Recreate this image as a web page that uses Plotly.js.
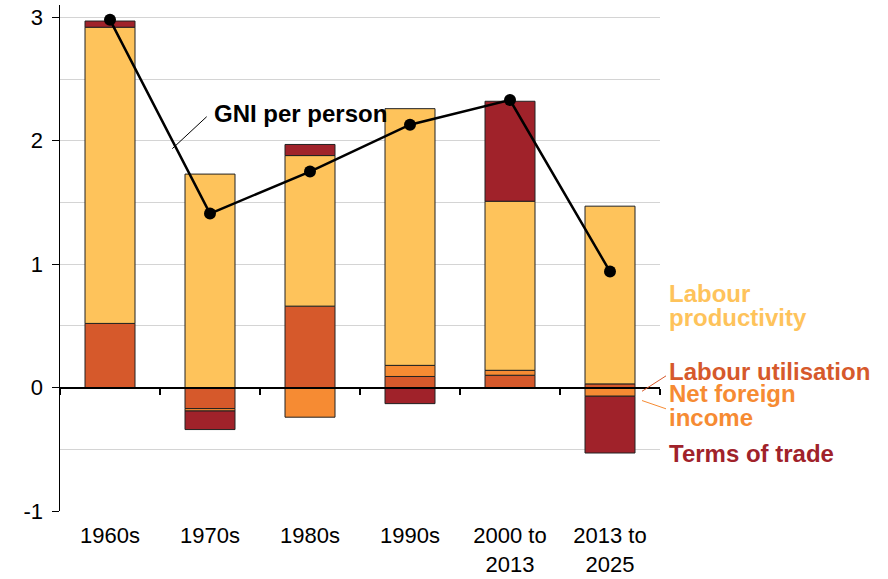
<!DOCTYPE html>
<html>
<head>
<meta charset="utf-8">
<script src="https://cdn.plot.ly/plotly-3.0.1.min.js"></script>
<style>html,body{margin:0;padding:0;background:#fff}#chart{width:888px;height:579px}</style>
</head>
<body>
<div id="chart"></div>
<script>
// Categories (x tick labels)
const categories = ["1960s", "1970s", "1980s", "1990s", "2000 to<br>2013", "2013 to<br>2025"];
// Component contributions (percentage points)
const labourUtilisation = [0.52, -0.17, 0.66, 0.09, 0.10, 0.03];
const netForeignIncome  = [0.00, -0.02, -0.24, 0.09, 0.04, -0.07];
const labourProductivity= [2.40, 1.73, 1.22, 2.08, 1.37, 1.44];
const termsOfTrade      = [0.05, -0.15, 0.09, -0.13, 0.81, -0.46];
// GNI per person growth
const gniPerPerson      = [2.98, 1.41, 1.75, 2.13, 2.33, 0.94];
// Y-axis ticks
const yTicks = [-1, 0, 1, 2, 3];
// Category boundary ticks on the zero line
const boundaryTicks = [-0.5, 0.5, 1.5, 2.5, 3.5, 4.5, 5.5];

const C_LP = "#FEC35B", C_LU = "#D6592B", C_NFI = "#F68B33", C_TOT = "#A0222A";
const FONT = "Liberation Sans, Arial, sans-serif";
const outline = {color: "#222", width: 1};

function barTrace(name, y, color) {
  return {type: "bar", name: name, x: categories, y: y, width: 0.5,
          marker: {color: color, line: outline}, hoverinfo: "skip"};
}

const traces = [
  barTrace("Labour utilisation", labourUtilisation, C_LU),
  barTrace("Net foreign income", netForeignIncome, C_NFI),
  barTrace("Labour productivity", labourProductivity, C_LP),
  barTrace("Terms of trade", termsOfTrade, C_TOT),
  {type: "scatter", mode: "lines+markers", name: "GNI per person", x: categories, y: gniPerPerson,
   line: {color: "#000", width: 2.5}, marker: {color: "#000", size: 12}, hoverinfo: "skip"},
  {type: "scatter", x: [], y: [], xaxis: "x2", showlegend: false, hoverinfo: "skip"}
];

function label(text, y, color) {
  return {text: "<b>" + text + "</b>", xref: "paper", yref: "y", x: 1.013, y: y, xanchor: "left",
          yanchor: "middle", borderpad: 0, showarrow: false, font: {size: 24, color: color}};
}

const layout = {
  width: 888, height: 579,
  margin: {l: 60, r: 228, t: 5, b: 68},
  paper_bgcolor: "#fff", plot_bgcolor: "#fff",
  barmode: "relative",
  showlegend: false,
  font: {family: FONT, size: 22, color: "#000"},
  xaxis: {type: "category", showline: false, showgrid: false, zeroline: false,
          ticks: "", ticklabelstandoff: 9, tickfont: {size: 22}, range: [-0.5, 5.5], fixedrange: true},
  xaxis2: {overlaying: "x", anchor: "free", position: 1 / 4.1, type: "linear", range: [-0.5, 5.5],
           showline: true, linecolor: "#000", linewidth: 2, ticks: "outside", ticklen: 6, tickwidth: 1.5,
           tickcolor: "#000", tickvals: boundaryTicks, showticklabels: false, showgrid: false, zeroline: false},
  yaxis: {range: [-1, 3.1], tickvals: yTicks, ticktext: yTicks.map(String), showline: true, linecolor: "#000",
          linewidth: 1.5, ticks: "outside", ticklen: 7, tickcolor: "#000", tickwidth: 1,
          gridcolor: "#d4d4d4", gridwidth: 1, zeroline: false, tickfont: {size: 22}, ticklabelstandoff: 4,
          minor: {dtick: 0.5, tick0: 0, showgrid: true, gridcolor: "#d4d4d4", gridwidth: 1, ticks: ""}},
  annotations: [
    {text: "<b>GNI per person</b>", xref: "x", yref: "y", x: 1.023, y: 2.223, xanchor: "left", yanchor: "middle",
     showarrow: false, font: {size: 24, color: "#000"}},
    label("Labour", 0.762, C_LP),
    label("productivity", 0.567, C_LP),
    label("Labour utilisation", 0.130, C_LU),
    label("Net foreign", -0.045, C_NFI),
    label("income", -0.24, C_NFI),
    label("Terms of trade", -0.535, C_TOT)
  ],
  shapes: [
    {type: "line", xref: "x", yref: "y", x0: 0.967, y0: 2.195, x1: 0.623, y1: 1.936, line: {color: "#000", width: 1}},
    {type: "line", xref: "paper", yref: "y", x0: 0.970, y0: -0.03, x1: 1.01, y1: 0.095, line: {color: C_LU, width: 1}},
    {type: "line", xref: "paper", yref: "y", x0: 0.970, y0: -0.105, x1: 1.01, y1: -0.172, line: {color: C_NFI, width: 1}}
  ]
};

Plotly.newPlot("chart", traces, layout, {staticPlot: true, displayModeBar: false});
</script>
</body>
</html>
